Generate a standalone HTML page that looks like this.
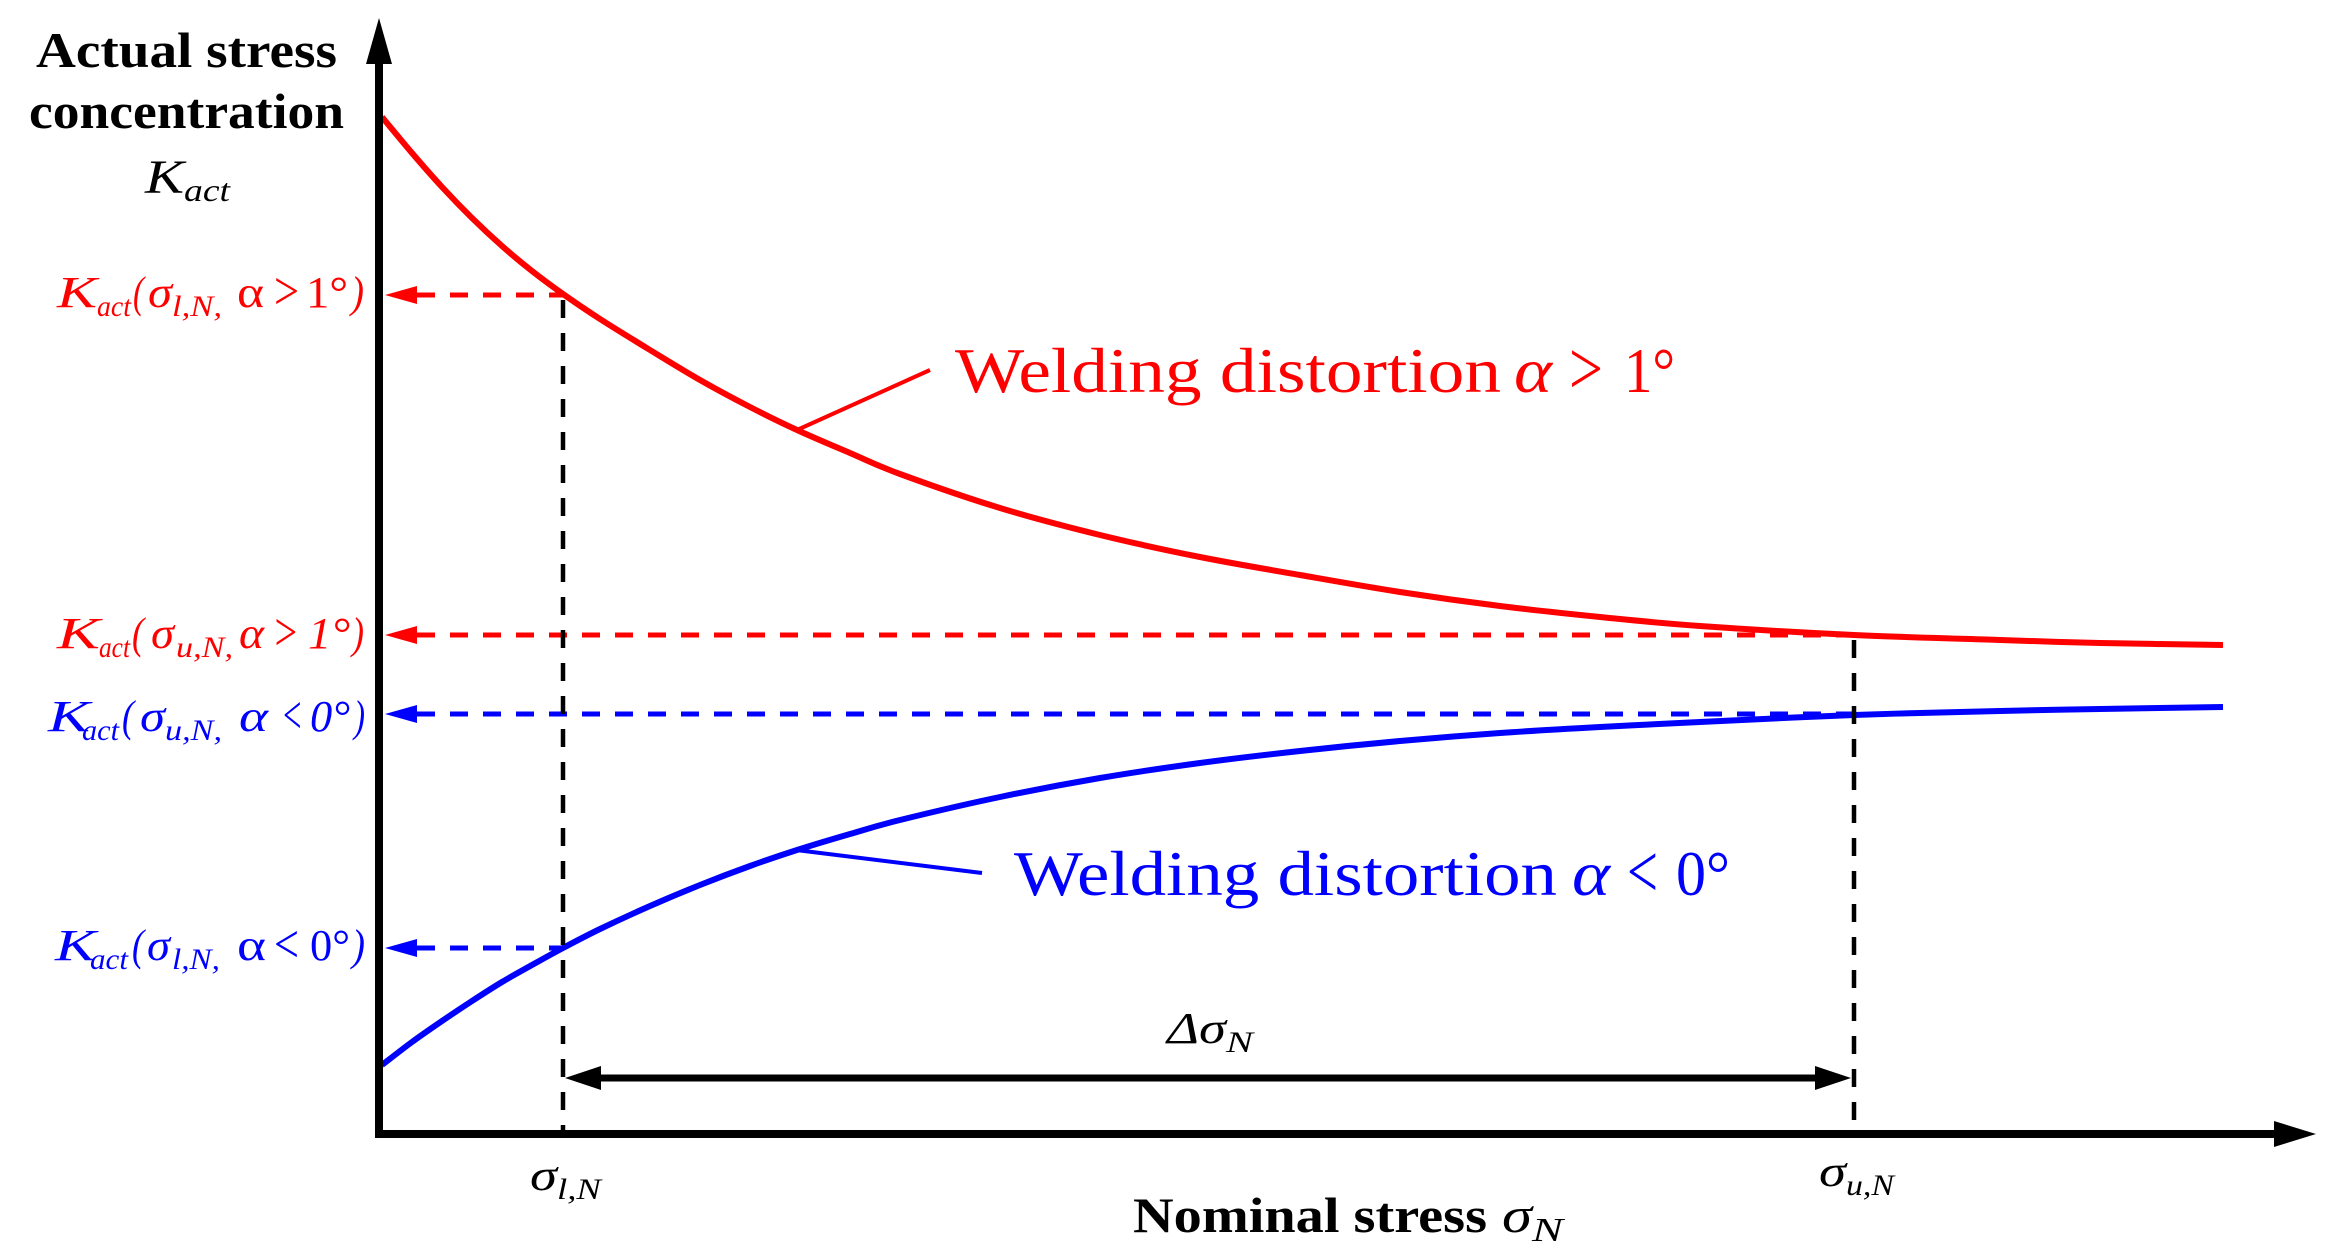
<!DOCTYPE html>
<html><head><meta charset="utf-8"><style>
html,body{margin:0;padding:0;background:#fff;}
svg{display:block;}
text{font-family:"Liberation Serif",serif;}
.b{font-weight:bold;}
.i{font-style:italic;}
</style></head><body>
<svg width="2335" height="1259" viewBox="0 0 2335 1259" xmlns="http://www.w3.org/2000/svg">
<rect width="2335" height="1259" fill="#fff"/>

<!-- curves -->
<polyline id="rc" fill="none" stroke="#ff0000" stroke-width="6" stroke-linejoin="round" stroke-linecap="butt" points="382,117 412,153 442,187 472,218 502,246 532,271 563,294 600,319 650,350 700,380 750,407 797,430 850,453 900,474 1000,508 1100,535 1200,557 1300,575 1400,592 1500,606 1600,617 1700,626 1854,635 2000,640 2100,643 2223,645"/>
<polyline id="bc" fill="none" stroke="#0000ff" stroke-width="6" stroke-linejoin="round" stroke-linecap="butt" points="382,1065 412,1042 442,1021 472,1001 502,982 532,965 563,948 600,929 650,906 700,885 750,866 797,850 850,834 900,820 1000,797 1100,778 1200,763 1300,751 1400,741 1500,733 1600,727 1700,722 1854,715 2000,711 2100,709 2223,707"/>

<!-- leader lines -->
<line x1="930" y1="370" x2="797" y2="430" stroke="#ff0000" stroke-width="4"/>
<line x1="982" y1="873" x2="796" y2="850" stroke="#0000ff" stroke-width="4"/>

<!-- dashed horizontal -->
<g stroke-width="5" stroke-dasharray="18 15" fill="none">
<line x1="417" y1="295" x2="563" y2="295" stroke="#ff0000"/>
<line x1="417" y1="635" x2="1854" y2="635" stroke="#ff0000"/>
<line x1="417" y1="714" x2="1854" y2="714" stroke="#0000ff"/>
<line x1="417" y1="948" x2="563" y2="948" stroke="#0000ff"/>
</g>
<polygon points="385,295 417,286 417,304" fill="#ff0000"/>
<polygon points="385,635 417,626 417,644" fill="#ff0000"/>
<polygon points="385,714 417,705 417,723" fill="#0000ff"/>
<polygon points="385,948 417,939 417,957" fill="#0000ff"/>

<!-- dashed vertical -->
<g stroke="#000" stroke-width="4.5" stroke-dasharray="18 15" fill="none">
<line x1="563" y1="300" x2="563" y2="1134"/>
<line x1="1854" y1="640" x2="1854" y2="1134"/>
</g>

<!-- axes -->
<line x1="379" y1="58" x2="379" y2="1138" stroke="#000" stroke-width="8"/>
<polygon points="379,18 366,64 392,64" fill="#000"/>
<line x1="375" y1="1134" x2="2280" y2="1134" stroke="#000" stroke-width="8"/>
<polygon points="2316,1134 2274,1121 2274,1147" fill="#000"/>

<!-- double arrow -->
<line x1="595" y1="1078" x2="1821" y2="1078" stroke="#000" stroke-width="7"/>
<polygon points="565,1078 601,1066 601,1090" fill="#000"/>
<polygon points="1851,1078 1815,1066 1815,1090" fill="#000"/>

<!-- y title -->
<text class="b" x="36" y="67" font-size="50" textLength="301" lengthAdjust="spacingAndGlyphs">Actual stress</text>
<text class="b" x="29" y="128" font-size="50" textLength="315" lengthAdjust="spacingAndGlyphs">concentration</text>
<text class="i" x="145" y="193" font-size="48" textLength="39" lengthAdjust="spacingAndGlyphs">K</text>
<text class="i" x="184" y="201" font-size="32" textLength="46" lengthAdjust="spacingAndGlyphs">act</text>

<!-- red label 1 -->
<g fill="#ff0000">
<text class="i" x="57" y="307" font-size="44" textLength="40" lengthAdjust="spacingAndGlyphs">K</text>
<text class="i" x="97" y="316" font-size="30" textLength="34" lengthAdjust="spacingAndGlyphs">act</text>
<text class="i" x="133" y="307" font-size="44" textLength="11" lengthAdjust="spacingAndGlyphs">(</text>
<text class="i" x="148" y="307" font-size="44" textLength="24" lengthAdjust="spacingAndGlyphs">σ</text>
<text class="i" x="172" y="316" font-size="30" textLength="50" lengthAdjust="spacingAndGlyphs">l,N,</text>
<text x="237" y="307" font-size="44" textLength="27" lengthAdjust="spacingAndGlyphs">α</text>
<text x="274" y="309" font-size="54" textLength="25" lengthAdjust="spacingAndGlyphs">&gt;</text>
<text x="306" y="307" font-size="44" textLength="42" lengthAdjust="spacingAndGlyphs">1°</text>
<text class="i" x="351" y="307" font-size="44" textLength="13" lengthAdjust="spacingAndGlyphs">)</text>
</g>

<!-- red label 2 -->
<g fill="#ff0000">
<text class="i" x="57" y="648" font-size="44" textLength="43" lengthAdjust="spacingAndGlyphs">K</text>
<text class="i" x="99" y="657" font-size="30" textLength="31" lengthAdjust="spacingAndGlyphs">act</text>
<text class="i" x="132" y="648" font-size="44" textLength="12" lengthAdjust="spacingAndGlyphs">(</text>
<text class="i" x="151" y="648" font-size="44" textLength="23" lengthAdjust="spacingAndGlyphs">σ</text>
<text class="i" x="176" y="657" font-size="30" textLength="57" lengthAdjust="spacingAndGlyphs">u,N,</text>
<text class="i" x="239" y="648" font-size="44" textLength="25" lengthAdjust="spacingAndGlyphs">α</text>
<text class="i" x="272" y="650" font-size="54" textLength="27" lengthAdjust="spacingAndGlyphs">&gt;</text>
<text class="i" x="308" y="648" font-size="44" textLength="42" lengthAdjust="spacingAndGlyphs">1°</text>
<text class="i" x="352" y="648" font-size="44" textLength="12" lengthAdjust="spacingAndGlyphs">)</text>
</g>

<!-- blue label 3 -->
<g fill="#0000ff">
<text class="i" x="48" y="731" font-size="44" textLength="42" lengthAdjust="spacingAndGlyphs">K</text>
<text class="i" x="82" y="740" font-size="30" textLength="37" lengthAdjust="spacingAndGlyphs">act</text>
<text class="i" x="122" y="731" font-size="44" textLength="12" lengthAdjust="spacingAndGlyphs">(</text>
<text class="i" x="140" y="731" font-size="44" textLength="25" lengthAdjust="spacingAndGlyphs">σ</text>
<text class="i" x="165" y="740" font-size="30" textLength="57" lengthAdjust="spacingAndGlyphs">u,N,</text>
<text class="i" x="239" y="731" font-size="44" textLength="29" lengthAdjust="spacingAndGlyphs">α</text>
<text class="i" x="281" y="733" font-size="54" textLength="22" lengthAdjust="spacingAndGlyphs">&lt;</text>
<text class="i" x="310" y="731" font-size="44" textLength="40" lengthAdjust="spacingAndGlyphs">0°</text>
<text class="i" x="354" y="731" font-size="44" textLength="11" lengthAdjust="spacingAndGlyphs">)</text>
</g>

<!-- blue label 4 -->
<g fill="#0000ff">
<text class="i" x="55" y="960" font-size="44" textLength="41" lengthAdjust="spacingAndGlyphs">K</text>
<text class="i" x="90" y="969" font-size="30" textLength="38" lengthAdjust="spacingAndGlyphs">act</text>
<text class="i" x="132" y="960" font-size="44" textLength="12" lengthAdjust="spacingAndGlyphs">(</text>
<text class="i" x="147" y="960" font-size="44" textLength="23" lengthAdjust="spacingAndGlyphs">σ</text>
<text class="i" x="172" y="969" font-size="30" textLength="48" lengthAdjust="spacingAndGlyphs">l,N,</text>
<text x="237" y="960" font-size="44" textLength="29" lengthAdjust="spacingAndGlyphs">α</text>
<text x="274" y="962" font-size="54" textLength="25" lengthAdjust="spacingAndGlyphs">&lt;</text>
<text x="310" y="960" font-size="44" textLength="40" lengthAdjust="spacingAndGlyphs">0°</text>
<text class="i" x="352" y="960" font-size="44" textLength="13" lengthAdjust="spacingAndGlyphs">)</text>
</g>

<!-- welding annotations -->
<g fill="#ff0000">
<text x="955" y="392" font-size="64" textLength="546" lengthAdjust="spacingAndGlyphs">Welding distortion</text>
<text class="i" x="1514" y="392" font-size="64" textLength="38" lengthAdjust="spacingAndGlyphs">α</text>
<text x="1569" y="394" font-size="76" textLength="34" lengthAdjust="spacingAndGlyphs">&gt;</text>
<text x="1624" y="392" font-size="64" textLength="51" lengthAdjust="spacingAndGlyphs">1°</text>
</g>
<g fill="#0000ff">
<text x="1014" y="895" font-size="64" textLength="543" lengthAdjust="spacingAndGlyphs">Welding distortion</text>
<text class="i" x="1572" y="895" font-size="64" textLength="38" lengthAdjust="spacingAndGlyphs">α</text>
<text x="1627" y="897" font-size="76" textLength="31" lengthAdjust="spacingAndGlyphs">&lt;</text>
<text x="1676" y="895" font-size="64" textLength="54" lengthAdjust="spacingAndGlyphs">0°</text>
</g>

<!-- delta sigma -->
<text class="i" x="1167" y="1043" font-size="44" textLength="59" lengthAdjust="spacingAndGlyphs">Δσ</text>
<text class="i" x="1226" y="1052" font-size="30" textLength="27" lengthAdjust="spacingAndGlyphs">N</text>

<!-- x ticks -->
<text class="i" x="530" y="1190" font-size="44" textLength="27" lengthAdjust="spacingAndGlyphs">σ</text>
<text class="i" x="557" y="1199" font-size="30" textLength="44" lengthAdjust="spacingAndGlyphs">l,N</text>
<text class="i" x="1819" y="1186" font-size="44" textLength="27" lengthAdjust="spacingAndGlyphs">σ</text>
<text class="i" x="1846" y="1195" font-size="30" textLength="48" lengthAdjust="spacingAndGlyphs">u,N</text>

<!-- x title -->
<text class="b" x="1133" y="1232" font-size="50" textLength="354" lengthAdjust="spacingAndGlyphs">Nominal stress</text>
<text class="i" x="1502" y="1232" font-size="50" textLength="30" lengthAdjust="spacingAndGlyphs">σ</text>
<text class="i" x="1532" y="1241" font-size="34" textLength="31" lengthAdjust="spacingAndGlyphs">N</text>
</svg>
<script>
(function(){
  function smooth(id){
    var el=document.getElementById(id);
    if(!el) return;
    var raw=el.getAttribute('points').trim().split(/\s+/).map(function(s){var a=s.split(',');return [parseFloat(a[0]),parseFloat(a[1])];});
    var n=raw.length, d='M'+raw[0][0]+','+raw[0][1];
    for(var i=0;i<n-1;i++){
      var p0=raw[i>0?i-1:0], p1=raw[i], p2=raw[i+1], p3=raw[i+2<n?i+2:n-1];
      var c1x=p1[0]+(p2[0]-p0[0])/6, c1y=p1[1]+(p2[1]-p0[1])/6;
      var c2x=p2[0]-(p3[0]-p1[0])/6, c2y=p2[1]-(p3[1]-p1[1])/6;
      d+=' C'+c1x.toFixed(2)+','+c1y.toFixed(2)+' '+c2x.toFixed(2)+','+c2y.toFixed(2)+' '+p2[0]+','+p2[1];
    }
    var path=document.createElementNS('http://www.w3.org/2000/svg','path');
    path.setAttribute('d',d);
    path.setAttribute('fill','none');
    path.setAttribute('stroke',el.getAttribute('stroke'));
    path.setAttribute('stroke-width',el.getAttribute('stroke-width'));
    path.setAttribute('stroke-linejoin','round');
    el.parentNode.replaceChild(path,el);
  }
  smooth('rc'); smooth('bc');
})();
</script>
</body></html>
